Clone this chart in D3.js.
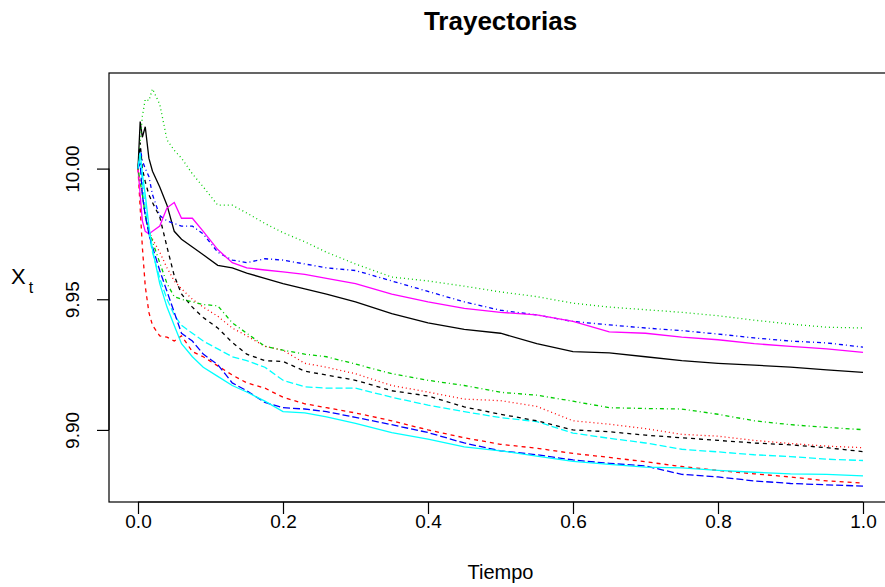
<!DOCTYPE html>
<html>
<head>
<meta charset="utf-8">
<script src="https://cdn.jsdelivr.net/npm/d3@7"></script>
<style>
  html, body { margin: 0; padding: 0; background: #fff; }
  svg { display: block; font-family: "Liberation Sans", Arial, sans-serif; }
</style>
</head>
<body>
<svg id="chart" width="885" height="587"></svg>
<script>
// Time grid shared by all trajectories
const tiempo = [0, 0.003, 0.006, 0.01, 0.015, 0.02, 0.03, 0.04, 0.05, 0.06, 0.075, 0.09,
  0.11, 0.13, 0.15, 0.175, 0.2, 0.23, 0.26, 0.3, 0.35, 0.4, 0.45, 0.5, 0.55, 0.6,
  0.65, 0.7, 0.75, 0.8, 0.85, 0.9, 0.95, 1.0];

// Simulated paths X_t, one array per trajectory
const tray1 = [10.0, 10.018, 10.012, 10.016, 10.004, 9.999, 9.993, 9.986, 9.976, 9.973, 9.970, 9.967,
  9.963, 9.962, 9.960, 9.958, 9.956, 9.954, 9.952, 9.949, 9.9445, 9.941, 9.9385, 9.937, 9.933, 9.930,
  9.9295, 9.928, 9.9265, 9.9255, 9.9248, 9.924, 9.923, 9.922];
const tray2 = [10.0, 9.985, 9.970, 9.955, 9.945, 9.940, 9.936, 9.9355, 9.934, 9.936, 9.930, 9.928,
  9.9245, 9.921, 9.918, 9.916, 9.9125, 9.910, 9.9085, 9.9065, 9.9035, 9.900, 9.897, 9.8945, 9.893, 9.891,
  9.8895, 9.8878, 9.886, 9.8845, 9.8832, 9.882, 9.8805, 9.8797];
const tray3 = [10.0, 10.010, 10.020, 10.0265, 10.026, 10.0305, 10.0246, 10.011, 10.007, 10.004, 9.998, 9.993,
  9.986, 9.986, 9.983, 9.979, 9.9755, 9.972, 9.968, 9.9635, 9.9585, 9.957, 9.955, 9.9528, 9.951, 9.9485,
  9.947, 9.946, 9.945, 9.9437, 9.942, 9.9405, 9.9393, 9.939];
const tray4 = [10.0, 10.008, 10.003, 10.0, 9.997, 9.990, 9.982, 9.980, 9.979, 9.978, 9.978, 9.975,
  9.968, 9.965, 9.964, 9.9655, 9.965, 9.9635, 9.962, 9.961, 9.957, 9.953, 9.949, 9.9458, 9.944, 9.9415,
  9.9402, 9.939, 9.938, 9.9367, 9.9352, 9.934, 9.9333, 9.9317];
const tray5 = [10.0, 10.005, 9.995, 9.985, 9.975, 9.968, 9.958, 9.950, 9.944, 9.940, 9.937, 9.934,
  9.931, 9.928, 9.9265, 9.924, 9.919, 9.9165, 9.916, 9.916, 9.9125, 9.9095, 9.907, 9.9047, 9.9032, 9.8988,
  9.8968, 9.895, 9.8926, 9.8916, 9.8905, 9.8898, 9.8888, 9.8883];
const tray6 = [10.0, 9.990, 9.980, 9.976, 9.975, 9.976, 9.978, 9.985, 9.987, 9.981, 9.981, 9.976,
  9.969, 9.964, 9.962, 9.9612, 9.9605, 9.9595, 9.958, 9.956, 9.952, 9.949, 9.9465, 9.945, 9.944, 9.9415,
  9.9375, 9.937, 9.9355, 9.9345, 9.933, 9.932, 9.931, 9.9297];
const tray7 = [10.0, 10.010, 10.0, 9.995, 9.990, 9.987, 9.9815, 9.970, 9.959, 9.952, 9.947, 9.943,
  9.939, 9.9335, 9.929, 9.9265, 9.9262, 9.9225, 9.921, 9.919, 9.915, 9.913, 9.9088, 9.906, 9.9035, 9.900,
  9.8993, 9.898, 9.897, 9.896, 9.895, 9.8943, 9.8932, 9.8917];
const tray8 = [10.0, 9.995, 9.990, 9.982, 9.976, 9.973, 9.968, 9.962, 9.957, 9.954, 9.950, 9.947,
  9.9435, 9.939, 9.936, 9.932, 9.9305, 9.9255, 9.924, 9.9215, 9.917, 9.9145, 9.9118, 9.9112, 9.909, 9.9035,
  9.9022, 9.9005, 9.8983, 9.8976, 9.896, 9.8948, 9.8938, 9.8932];
const tray9 = [10.0, 9.995, 9.990, 9.982, 9.977, 9.972, 9.964, 9.956, 9.951, 9.950, 9.949, 9.948,
  9.9475, 9.941, 9.937, 9.932, 9.9305, 9.929, 9.928, 9.9252, 9.9215, 9.919, 9.917, 9.9144, 9.9133, 9.911,
  9.9085, 9.9082, 9.908, 9.906, 9.9035, 9.902, 9.901, 9.9001];
const tray10 = [10.0, 10.002, 9.990, 9.982, 9.975, 9.970, 9.961, 9.953, 9.945, 9.937, 9.934, 9.929,
  9.925, 9.918, 9.915, 9.9105, 9.9085, 9.908, 9.907, 9.9048, 9.902, 9.899, 9.895, 9.892, 9.8905, 9.8885,
  9.8872, 9.8862, 9.883, 9.882, 9.8805, 9.8795, 9.879, 9.8785];
const tray11 = [10.0, 10.006, 9.998, 9.990, 9.978, 9.969, 9.956, 9.947, 9.940, 9.933, 9.928, 9.924,
  9.9205, 9.917, 9.9145, 9.911, 9.907, 9.9065, 9.905, 9.9025, 9.899, 9.8965, 9.8935, 9.892, 9.890, 9.888,
  9.8868, 9.8858, 9.8855, 9.8845, 9.8838, 9.8832, 9.883, 9.8824];

const series = [tray1, tray2, tray3, tray4, tray5, tray6, tray7, tray8, tray9, tray10, tray11];

// Axis tick values
const xTicks = [0.0, 0.2, 0.4, 0.6, 0.8, 1.0];
const yTicks = [9.90, 9.95, 10.00];

// matplot-style recycling of colours (1:6) and line types (1:5)
const palette = ["#000000", "#FF0000", "#00CD00", "#0000FF", "#00FFFF", "#FF00FF"];
const dashes = [null, "4,4", "1,3", "1,3,4,3", "7,3"];

const svg = d3.select("#chart");
const plot = { left: 109, top: 73, right: 892, bottom: 502 };

// Domains padded by 4% on each side
function padded(ext) {
  const r = ext[1] - ext[0];
  return [ext[0] - 0.04 * r, ext[1] + 0.04 * r];
}
const x = d3.scaleLinear().domain(padded(d3.extent(tiempo))).range([plot.left, plot.right]);
const allVals = series.flat();
const y = d3.scaleLinear().domain(padded(d3.extent(allVals))).range([plot.bottom, plot.top]);

// Trajectories
const line = d3.line().x((d, i) => x(tiempo[i])).y(d => y(d));
svg.append("g").selectAll("path")
  .data(series)
  .join("path")
  .attr("d", d => line(d))
  .attr("fill", "none")
  .attr("stroke", (d, i) => palette[i % palette.length])
  .attr("stroke-width", 1.3)
  .attr("stroke-dasharray", (d, i) => dashes[i % dashes.length]);

// Frame
svg.append("rect")
  .attr("x", plot.left).attr("y", plot.top)
  .attr("width", plot.right - plot.left).attr("height", plot.bottom - plot.top)
  .attr("fill", "none").attr("stroke", "#000").attr("stroke-width", 1.2);

// X axis
const xAxis = d3.axisBottom(x).tickValues(xTicks).tickSize(12).tickPadding(4)
  .tickFormat(d3.format(".1f"));
const gx = svg.append("g").attr("transform", `translate(0,${plot.bottom})`).call(xAxis);
gx.select(".domain").attr("d", `M${x(xTicks[0])},0H${x(xTicks[xTicks.length - 1])}`)
  .attr("stroke", "#000").attr("stroke-width", 1.2);
gx.selectAll(".tick line").attr("stroke", "#000").attr("stroke-width", 1.2);
gx.selectAll(".tick text")
  .attr("font-family", "Liberation Sans, Arial, sans-serif")
  .attr("font-size", 19).attr("fill", "#000")
  .attr("dy", null).attr("y", 26);

// Y axis
const yAxis = d3.axisLeft(y).tickValues(yTicks).tickSize(12).tickFormat(d3.format(".2f"));
const gy = svg.append("g").attr("transform", `translate(${plot.left},0)`).call(yAxis);
gy.select(".domain").attr("d", `M0,${y(yTicks[0])}V${y(yTicks[yTicks.length - 1])}`)
  .attr("stroke", "#000").attr("stroke-width", 1.2);
gy.selectAll(".tick line").attr("stroke", "#000").attr("stroke-width", 1.2);
gy.selectAll(".tick text")
  .attr("font-family", "Liberation Sans, Arial, sans-serif")
  .attr("font-size", 19).attr("fill", "#000")
  .attr("x", null).attr("dy", null)
  .attr("text-anchor", "middle")
  .attr("transform", "translate(-30,0) rotate(-90)");

// Title
svg.append("text")
  .attr("x", (plot.left + plot.right) / 2).attr("y", 30)
  .attr("text-anchor", "middle")
  .attr("font-size", 26).attr("font-weight", "bold")
  .text("Trayectorias");

// X axis label
svg.append("text")
  .attr("x", (plot.left + plot.right) / 2).attr("y", 579)
  .attr("text-anchor", "middle")
  .attr("font-size", 20)
  .text("Tiempo");

// Y axis label X_t
const ylab = svg.append("text").attr("x", 11).attr("y", 284).attr("font-size", 22);
ylab.append("tspan").text("X");
ylab.append("tspan").attr("dy", 9).attr("dx", 3).attr("font-size", 16).text("t");
</script>
</body>
</html>
